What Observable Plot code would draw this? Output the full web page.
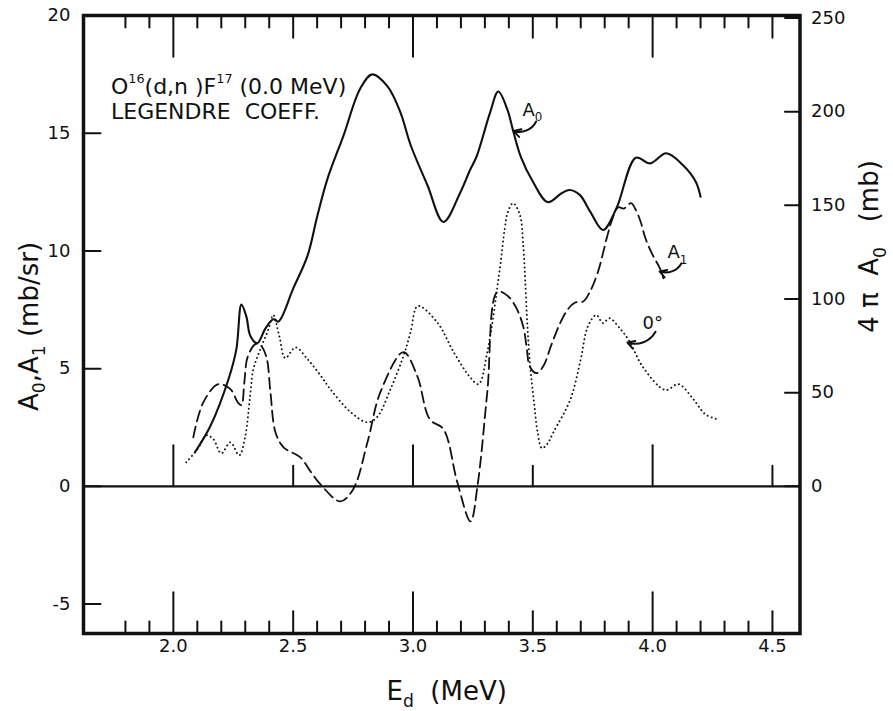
<!DOCTYPE html>
<html>
<head>
<meta charset="utf-8">
<script src="https://cdn.jsdelivr.net/npm/d3@7"></script>
<script src="https://cdn.jsdelivr.net/npm/@observablehq/plot@0.6"></script>
<style>
  html, body { margin: 0; padding: 0; background: #fff; }
  #chart { width: 893px; height: 711px; }
</style>
</head>
<body>
<div id="chart"></div>
<script>
// ---- data (E_d in MeV, value in mb/sr) ----
const a0Points = [
  [2.09,1.45],[2.154,2.55],[2.23,4.55],[2.263,5.83],[2.284,7.72],[2.305,7.2],[2.321,6.4],
  [2.35,6.08],[2.384,6.7],[2.417,7.1],[2.438,7.0],[2.50,8.4],[2.56,9.8],[2.60,11.45],
  [2.643,13.06],[2.71,14.9],[2.78,16.9],[2.83,17.5],[2.893,17.0],[2.947,15.9],[2.99,14.5],
  [3.06,12.8],[3.127,11.23],[3.196,12.45],[3.238,13.44],[3.265,14.0],[3.321,15.85],
  [3.356,16.77],[3.394,16.0],[3.417,15.14],[3.45,14.0],[3.50,12.95],[3.5625,12.07],
  [3.62,12.45],[3.654,12.59],[3.696,12.38],[3.74,11.66],[3.793,10.89],[3.849,11.81],
  [3.93,13.96],[3.99,13.72],[4.057,14.15],[4.126,13.65],[4.18,12.94],[4.20,12.3]
];
const a1Points = [
  [2.083,2.08],[2.125,3.57],[2.188,4.34],[2.238,4.13],[2.27,3.55],[2.284,3.45],[2.296,4.4],
  [2.31,5.5],[2.342,6.04],[2.36,6.04],[2.388,5.5],[2.405,4.0],[2.426,2.3],[2.46,1.66],
  [2.53,1.23],[2.572,0.64],[2.614,0.085],[2.697,-0.64],[2.75,-0.13],[2.81,1.87],[2.864,4.0],
  [2.96,5.7],[3.018,4.68],[3.07,2.85],[3.127,2.43],[3.185,0.17],[3.24,-1.49],[3.27,0.085],
  [3.31,4.0],[3.352,8.26],[3.394,8.1],[3.43,7.6],[3.46,6.79],[3.474,5.94],[3.4875,5.09],
  [3.515,4.81],[3.543,5.09],[3.577,6.0],[3.6125,6.9],[3.645,7.5],[3.675,7.8],[3.71,7.85],
  [3.735,8.2],[3.77,9.05],[3.81,10.6],[3.83,11.3],[3.856,11.85],[3.88,11.8],[3.91,12.03],
  [3.93,11.74],[3.95,11.24],[3.97,10.54],[4.0,9.83],[4.03,9.27],[4.045,8.84]
];
const zeroDegPoints = [
  [2.054,1.02],[2.10,1.57],[2.138,2.17],[2.167,2.0],[2.20,1.4],[2.238,1.87],[2.275,1.32],
  [2.30,2.13],[2.32,3.83],[2.334,4.98],[2.363,5.83],[2.397,6.68],[2.417,7.28],[2.442,6.38],
  [2.467,5.45],[2.51,5.9],[2.56,5.4],[2.61,4.77],[2.655,4.13],[2.74,3.15],[2.81,2.72],
  [2.85,2.94],[2.906,4.13],[2.96,5.53],[2.99,6.55],[3.02,7.66],[3.10,6.98],[3.17,5.7],
  [3.235,4.68],[3.273,4.34],[3.31,5.7],[3.3625,9.26],[3.383,10.96],[3.3965,11.67],
  [3.418,12.03],[3.446,11.53],[3.46,10.25],[3.468,8.8],[3.477,6.9],[3.49,5.0],[3.505,3.6],
  [3.52,2.3],[3.538,1.62],[3.56,1.8],[3.586,2.3],[3.657,3.7],[3.70,5.4],[3.73,6.8],
  [3.765,7.28],[3.793,6.93],[3.82,7.14],[3.8625,6.72],[3.904,6.15],[3.96,5.06],[4.053,4.09],
  [4.108,4.34],[4.17,3.7],[4.22,3.06],[4.27,2.85]
];

// ---- axes / ticks ----
const xDomain = [1.625, 4.615];
const yDomain = [-6.25, 20];
const xTickValues = [2.0, 2.5, 3.0, 3.5, 4.0, 4.5];
const xTickLabels = ["2.0", "2.5", "3.0", "3.5", "4.0", "4.5"];
const xMinorTicks = d3.range(18, 46).map(d => d / 10);
const yLeftTicks = [-5, 0, 5, 10, 15, 20];
const yLeftLabels = ["-5", "0", "5", "10", "15", "20"];
const yRightTicks = [0, 50, 100, 150, 200, 250];
const yRightLabels = ["0", "50", "100", "150", "200", "250"];
const FOUR_PI = 4 * Math.PI;

// ---- annotations ----
const curveLabels = ["A_{0}", "A_{1}", "0°"];
const labelAt = [[3.457, 15.75], [4.062, 9.68], [3.958, 6.70]];
const arrowFrom = [[3.514, 15.50], [4.12, 9.47], [4.012, 6.57]];
const arrowTo = [[3.42, 15.09], [4.029, 9.13], [3.895, 6.11]];
const titleLines = ["O^{16}(d,n )F^{17} (0.0 MeV)", "LEGENDRE\u00A0 COEFF."];
const xTitle = "E_{d}\u00A0 (MeV)";
const yLeftTitle = "A_{0},A_{1} (mb/sr)";
const yRightTitle = "4\u00A0π\u00A0 A_{0}\u00A0\u00A0 (mb)";

const INK = "#111";
const tickShape = { draw(context, l) { context.moveTo(0, 0); context.lineTo(0, -l); } };
const isInt = v => Math.abs(v - Math.round(v)) < 1e-6;
const isHalf = v => Math.abs(v * 2 - Math.round(v * 2)) < 1e-6;
const frameTickLen = v => isInt(v) ? 24 : isHalf(v) ? 13 : 7;
const zeroTickLen = v => isInt(v) ? 24 : 12;

const chart = Plot.plot({
  width: 893,
  height: 711,
  marginLeft: 83,
  marginRight: 93.5,
  marginTop: 15,
  marginBottom: 78,
  x: { domain: xDomain, axis: null },
  y: { domain: yDomain, axis: null },
  style: { fontFamily: "DejaVu Sans", fontSize: "18px", color: INK, background: "#fff" },
  marks: [
    // zero line with its ticks
    Plot.ruleY([0], { stroke: INK, strokeWidth: 2.2 }),
    Plot.vector(xTickValues, { x: d => d, y: () => 0, rotate: 0, anchor: "start",
      length: d => zeroTickLen(d), shape: tickShape, stroke: INK, strokeWidth: 2 }),
    // frame ticks
    Plot.vector(xMinorTicks, { x: d => d, y: () => yDomain[0], rotate: 0, anchor: "start",
      length: d => frameTickLen(d), shape: tickShape, stroke: INK, strokeWidth: 2 }),
    Plot.vector(xMinorTicks, { x: d => d, y: () => yDomain[1], rotate: 180, anchor: "start",
      length: d => frameTickLen(d), shape: tickShape, stroke: INK, strokeWidth: 2 }),
    Plot.vector(yLeftTicks, { x: () => xDomain[0], y: d => d, rotate: 90, anchor: "start",
      length: 17, shape: tickShape, stroke: INK, strokeWidth: 2 }),
    Plot.vector(yRightTicks, { x: () => xDomain[1], y: d => d / FOUR_PI, rotate: -90, anchor: "start",
      length: 15, shape: tickShape, stroke: INK, strokeWidth: 2 }),
    Plot.frame({ stroke: INK, strokeWidth: 3.5 }),

    // curves
    Plot.line(a0Points, { x: d => d[0], y: d => d[1], curve: "catmull-rom",
      stroke: INK, strokeWidth: 2.1 }),
    Plot.line(a1Points, { x: d => d[0], y: d => d[1], curve: "catmull-rom",
      stroke: INK, strokeWidth: 1.8, strokeDasharray: "11,5.5" }),
    Plot.line(zeroDegPoints, { x: d => d[0], y: d => d[1], curve: "catmull-rom",
      stroke: INK, strokeWidth: 1.9, strokeDasharray: "0.1,4.2", strokeLinecap: "round" }),

    // annotation arrows and labels
    Plot.arrow(curveLabels, { x1: (d, i) => arrowFrom[i][0], y1: (d, i) => arrowFrom[i][1],
      x2: (d, i) => arrowTo[i][0], y2: (d, i) => arrowTo[i][1], bend: 40,
      headLength: 6, stroke: INK, strokeWidth: 2 }),
    Plot.text(curveLabels, { x: (d, i) => labelAt[i][0], y: (d, i) => labelAt[i][1], text: d => d,
      textAnchor: "start", lineAnchor: "bottom", fontSize: 18, fill: INK }),

    // tick labels
    Plot.text(xTickValues, { x: d => d, text: (d, i) => xTickLabels[i], frameAnchor: "bottom",
      dy: 18, fontSize: 18, fill: INK }),
    Plot.text(yLeftTicks, { y: d => d, text: (d, i) => yLeftLabels[i], frameAnchor: "left",
      dx: -13, textAnchor: "end", fontSize: 18, fill: INK }),
    Plot.text(yRightTicks, { y: d => d / FOUR_PI, text: (d, i) => yRightLabels[i], frameAnchor: "right",
      dx: 11, textAnchor: "start", fontSize: 18, fill: INK }),

    // titles
    Plot.text([xTitle], { text: d => d, frameAnchor: "bottom-left", dx: 303, dy: 66,
      textAnchor: "start", lineAnchor: "bottom", fontSize: 26, fill: INK }),
    Plot.text([yLeftTitle], { text: d => d, frameAnchor: "left", rotate: -90, dx: -54, dy: 2,
      textAnchor: "middle", fontSize: 26, fill: INK }),
    Plot.text([yRightTitle], { text: d => d, frameAnchor: "right", rotate: -90, dx: 70, dy: -78,
      textAnchor: "middle", fontSize: 26, fill: INK }),
    Plot.text([titleLines[0]], { text: d => d, frameAnchor: "top-left", dx: 27.5, dy: 78,
      textAnchor: "start", lineAnchor: "bottom", fontSize: 22, fill: INK }),
    Plot.text([titleLines[1]], { text: d => d, frameAnchor: "top-left", dx: 27.5, dy: 103,
      textAnchor: "start", lineAnchor: "bottom", fontSize: 22, fill: INK })
  ]
});

document.getElementById("chart").appendChild(chart);

// turn ^{..} and _{..} markers into real superscript / subscript tspans
function applyRich(root) {
  root.querySelectorAll("text").forEach(el => {
    const src = el.textContent;
    if (!/[_^]\{/.test(src)) return;
    const fs = parseFloat(getComputedStyle(el).fontSize) || 18;
    while (el.firstChild) el.removeChild(el.firstChild);
    const re = /([_^])\{([^}]*)\}|([^_^]+)/g;
    let m, offset = 0;
    while ((m = re.exec(src))) {
      const t = document.createElementNS("http://www.w3.org/2000/svg", "tspan");
      if (m[3] !== undefined) {
        t.textContent = m[3];
        if (offset) { t.setAttribute("dy", -offset); offset = 0; }
      } else {
        const sup = m[1] === "^";
        const shift = sup ? -0.5 * fs : 0.28 * fs;
        t.textContent = m[2];
        t.setAttribute("font-size", (sup ? 0.58 : 0.66) * fs);
        t.setAttribute("dy", shift - offset);
        offset = shift;
      }
      el.appendChild(t);
    }
  });
}
applyRich(chart);
</script>
</body>
</html>
